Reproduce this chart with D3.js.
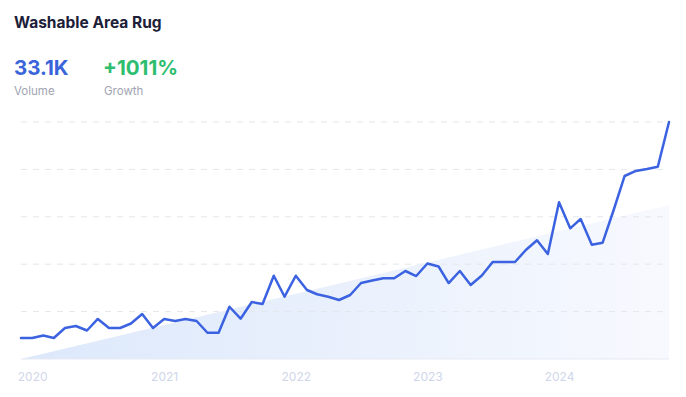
<!DOCTYPE html>
<html lang="en">
  <head>
    <meta charset="utf-8">
    <title>Washable Area Rug</title>
    <script type="text/javascript" src="https://cdn.jsdelivr.net/npm/d3@7"></script>
    <style type="text/css">
      body { margin: 0; background: #fff; font-family: Inter, "Open Sans", sans-serif; }
    </style>
  </head>
  <body>
    <script type="text/javascript">

      //Width and height
      var w = 686;
      var h = 397;

      //Monthly search volume (thousands), Dec 2019 - Nov 2024
      var months = d3.timeMonths(new Date(2019, 11, 1), new Date(2024, 11, 1));
      var volume = [
        2.93, 2.93, 3.28, 2.93, 4.33, 4.61, 3.98, 5.59, 4.33, 4.33, 4.96, 6.28,
        4.33, 5.59, 5.31, 5.59, 5.31, 3.67, 3.67, 7.30, 5.63, 7.96, 7.68, 11.63,
        8.70, 11.63, 9.64, 9.04, 8.70, 8.24, 8.94, 10.61, 10.96, 11.27, 11.27, 12.29,
        11.59, 13.34, 12.92, 10.61, 12.29, 10.33, 11.66, 13.55, 13.55, 13.55, 15.22, 16.58,
        14.66, 21.88, 18.25, 19.55, 15.96, 16.24, 20.88, 25.56, 26.26, 26.54, 26.86, 33.1
      ];
      //Trend (start and end)
      var trend = [0, 21.5];
      var yearLabels = ["2020", "2021", "2022", "2023", "2024"];

      var svg = d3.select("body")
                  .append("svg")
                  .attr("width", w)
                  .attr("height", h);

      //Header texts
      svg.append("text")
         .attr("x", 14).attr("y", 28)
         .style("font-size", "15.5px").style("font-weight", 700)
         .style("fill", "#1c2038")
         .text("Washable Area Rug");

      svg.append("text")
         .attr("x", 14).attr("y", 75)
         .style("font-size", "20.5px").style("font-weight", 700)
         .style("fill", "#3a64da")
         .text("33.1K");

      svg.append("text")
         .attr("x", 103).attr("y", 75)
         .style("font-size", "20.5px").style("font-weight", 700)
         .style("fill", "#2dbd6e")
         .text("+1011%");

      svg.append("text")
         .attr("x", 14).attr("y", 95)
         .style("font-size", "11.5px")
         .style("fill", "#a0a4b2")
         .text("Volume");

      svg.append("text")
         .attr("x", 104).attr("y", 95)
         .style("font-size", "11.5px")
         .style("fill", "#a0a4b2")
         .text("Growth");

      //Scales
      var x = d3.scaleTime()
                .domain([months[0], months[months.length - 1]])
                .range([21, 669]);

      var y = d3.scaleLinear()
                .domain([0, 33.1])
                .range([359, 122]);

      //Trend area gradient
      var defs = svg.append("defs");
      var grad = defs.append("linearGradient")
                     .attr("id", "trendFill")
                     .attr("x1", "0").attr("y1", "0")
                     .attr("x2", "1").attr("y2", "0");
      grad.append("stop").attr("offset", "0%").attr("stop-color", "#dce8fb");
      grad.append("stop").attr("offset", "100%").attr("stop-color", "#f7f9fe");

      var trendPts = [
        { date: months[0], v: trend[0] },
        { date: months[months.length - 1], v: trend[1] }
      ];
      var trendArea = d3.area()
                        .x(function(d) { return x(d.date); })
                        .y0(y(0))
                        .y1(function(d) { return y(d.v); });

      svg.append("path")
         .datum(trendPts)
         .attr("d", trendArea)
         .style("fill", "url(#trendFill)");

      //Grid lines
      var gridVals = d3.range(1, 6).map(function(i) { return 33.1 * i / 5; });
      svg.selectAll("line.grid")
         .data(gridVals)
         .enter()
         .append("line")
         .attr("class", "grid")
         .attr("x1", 21).attr("x2", 664)
         .attr("y1", function(d) { return y(d); })
         .attr("y2", function(d) { return y(d); })
         .style("stroke", "#e4e6eb")
         .style("stroke-width", 1)
         .style("stroke-dasharray", "6,6");

      //Baseline
      svg.append("line")
         .attr("x1", 21).attr("x2", 669)
         .attr("y1", y(0)).attr("y2", y(0))
         .style("stroke", "#e6e9f3")
         .style("stroke-width", 1);

      //X axis labels
      var xAxis = d3.axisBottom(x)
                    .tickValues(yearLabels.map(function(s) { return new Date(+s, 0, 1); }))
                    .tickFormat(d3.timeFormat("%Y"))
                    .tickSize(0)
                    .tickPadding(13);

      var gx = svg.append("g")
                  .attr("transform", "translate(0," + y(0) + ")")
                  .call(xAxis);
      gx.select(".domain").remove();
      gx.selectAll("text")
        .style("font-family", "Inter, sans-serif")
        .style("font-size", "12px")
        .style("fill", "#cfd6ea");

      //Volume line
      var line = d3.line()
                   .x(function(d, i) { return x(months[i]); })
                   .y(function(d) { return y(d); });

      svg.append("path")
         .datum(volume)
         .attr("d", line)
         .style("fill", "none")
         .style("stroke", "#3b62e0")
         .style("stroke-width", 2.5)
         .style("stroke-linejoin", "round")
         .style("stroke-linecap", "round");

    </script>
  </body>
</html>
